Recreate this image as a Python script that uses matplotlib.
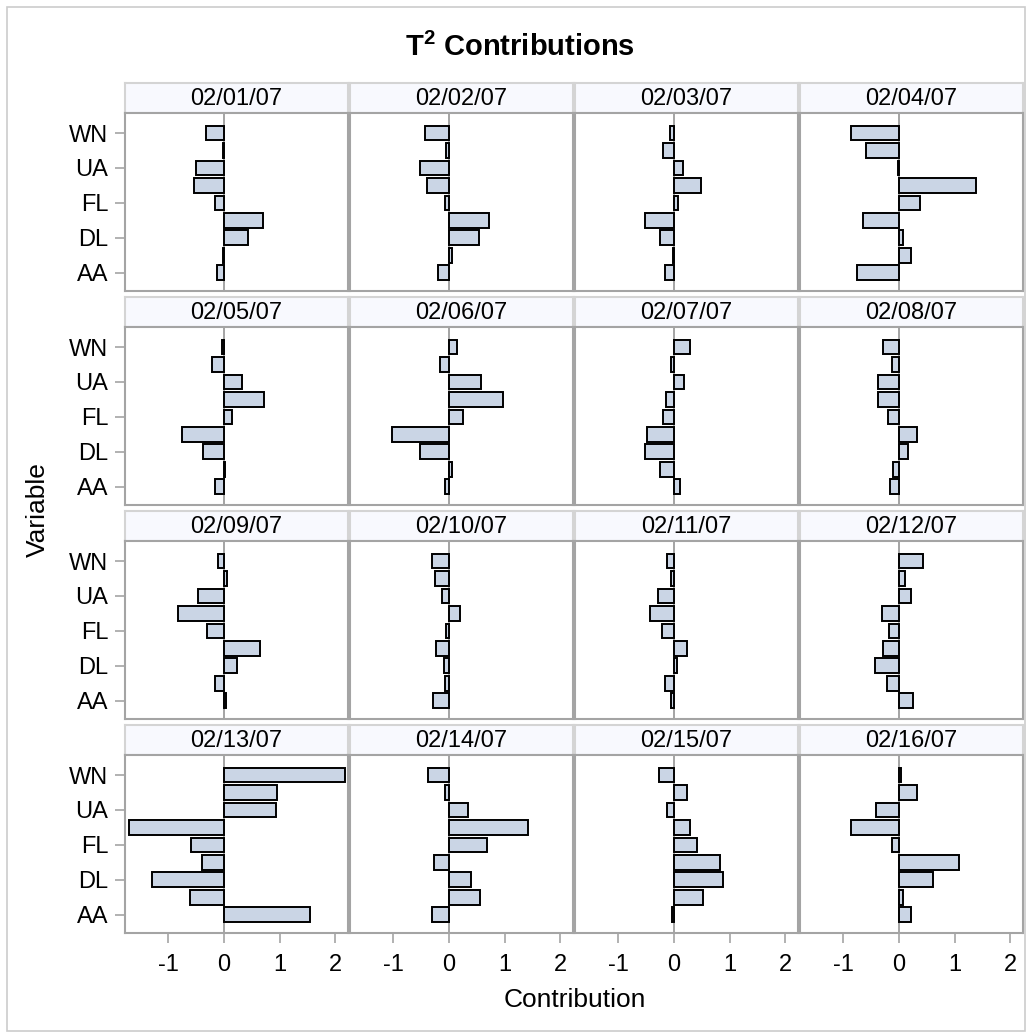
import matplotlib
matplotlib.use("Agg")
from matplotlib import pyplot as plt
from matplotlib.patches import Rectangle

plt.rcParams['font.family'] = ['Liberation Sans', 'DejaVu Sans']

variables = ["AA", "CO", "DL", "F9", "FL", "NW", "UA", "US", "WN"]
tick_vars = ["AA", "DL", "FL", "UA", "WN"]
dates = ["02/01/07", "02/02/07", "02/03/07", "02/04/07",
         "02/05/07", "02/06/07", "02/07/07", "02/08/07",
         "02/09/07", "02/10/07", "02/11/07", "02/12/07",
         "02/13/07", "02/14/07", "02/15/07", "02/16/07"]

# contributions in the order of `variables` (AA ... WN)
feb01 = [-0.13, -0.01, 0.44, 0.70, -0.16, -0.54, -0.50, -0.02, -0.33]
feb02 = [-0.19, 0.05, 0.54, 0.72, -0.08, -0.39, -0.53, -0.05, -0.43]
feb03 = [-0.16, -0.01, -0.26, -0.53, 0.07, 0.49, 0.17, -0.19, -0.08]
feb04 = [-0.76, 0.22, 0.08, -0.65, 0.37, 1.39, -0.01, -0.59, -0.86]
feb05 = [-0.17, 0.01, -0.37, -0.76, 0.15, 0.72, 0.32, -0.22, -0.03]
feb06 = [-0.08, 0.05, -0.53, -1.03, 0.25, 0.97, 0.58, -0.16, 0.14]
feb07 = [0.11, -0.26, -0.52, -0.48, -0.19, -0.14, 0.18, -0.05, 0.28]
feb08 = [-0.16, -0.11, 0.16, 0.32, -0.19, -0.38, -0.38, -0.12, -0.28]
feb09 = [0.04, -0.16, 0.23, 0.64, -0.30, -0.83, -0.46, 0.05, -0.10]
feb10 = [-0.28, -0.08, -0.09, -0.23, -0.05, 0.19, -0.13, -0.26, -0.30]
feb11 = [-0.06, -0.16, 0.05, 0.23, -0.22, -0.44, -0.29, -0.06, -0.13]
feb12 = [0.26, -0.22, -0.44, -0.29, -0.18, -0.31, 0.21, 0.10, 0.43]
feb13 = [1.55, -0.62, -1.30, -0.39, -0.60, -1.71, 0.93, 0.96, 2.17]
feb14 = [-0.31, 0.56, 0.39, -0.27, 0.68, 1.42, 0.34, -0.08, -0.37]
feb15 = [-0.03, 0.52, 0.89, 0.82, 0.41, 0.29, -0.13, 0.23, -0.27]
feb16 = [0.22, 0.08, 0.61, 1.08, -0.12, -0.86, -0.41, 0.32, 0.03]

contributions = [feb01, feb02, feb03, feb04, feb05, feb06, feb07, feb08,
                 feb09, feb10, feb11, feb12, feb13, feb14, feb15, feb16]

W, H = 1032, 1036
fig = plt.figure(figsize=(W / 100, H / 100), dpi=100)


def px_axes(left, top, width, height):
    return fig.add_axes([left / W, 1 - (top + height) / H, width / W, height / H])


col_left = [125, 350, 575, 800]
col_width = 223
row_top = [83, 297, 511, 725]
head_h = 30
plot_h = 178

value_size = 17
label_size = 19
bar_color = "#CAD5E5"
frame_color = "#A4A4A4"
ypos = list(range(len(variables)))

for i, (date, values) in enumerate(zip(dates, contributions)):
    r, c = divmod(i, 4)

    head = px_axes(col_left[c], row_top[r], col_width, head_h)
    head.set_facecolor("#F8F9FE")
    head.set_xticks([])
    head.set_yticks([])
    for sp in head.spines.values():
        sp.set_color("#D4D4D4")
        sp.set_linewidth(1.5)
    head.text(0.5, 0.47, date, ha="center", va="center", fontsize=value_size,
              transform=head.transAxes)

    ax = px_axes(col_left[c], row_top[r] + head_h, col_width, plot_h)
    ax.axvline(0, color=frame_color, lw=1.4, zorder=1)
    ax.barh(ypos, values, height=0.84, color=bar_color, edgecolor="black",
            linewidth=1.4, zorder=2)
    ax.set_xlim(-1.78, 2.23)
    ax.set_ylim(-1.05, 9.15)
    for sp in ax.spines.values():
        sp.set_color(frame_color)
        sp.set_linewidth(1.5)

    ax.set_yticks([variables.index(v) for v in tick_vars])
    if c == 0:
        ax.set_yticklabels(tick_vars, fontsize=value_size)
        ax.tick_params(axis="y", length=7, width=1.2, color=frame_color, pad=5)
    else:
        ax.tick_params(axis="y", left=False, labelleft=False)

    ax.set_xticks([-1, 0, 1, 2])
    if r == 3:
        ax.set_xticklabels(["-1", "0", "1", "2"], fontsize=value_size)
        ax.tick_params(axis="x", length=7, width=1.2, color=frame_color, pad=8)
    else:
        ax.tick_params(axis="x", bottom=False, labelbottom=False)

fig.text(520 / W, 1 - 47 / H, r"T$^{\mathregular{2}}$ Contributions", ha="center", va="center",
         fontsize=21, fontweight="bold")
fig.text(575 / W, 1 - 1000 / H, "Contribution", ha="center", va="center",
         fontsize=label_size)
fig.text(38 / W, 1 - 510 / H, "Variable", ha="center", va="center", rotation=90,
         fontsize=label_size)

fig.add_artist(Rectangle((7 / W, 5 / H), (W - 14) / W, (H - 12) / H,
                         transform=fig.transFigure, fill=False,
                         edgecolor="#CCCCCC", linewidth=1.2))

fig.savefig("out.png", dpi=100)
